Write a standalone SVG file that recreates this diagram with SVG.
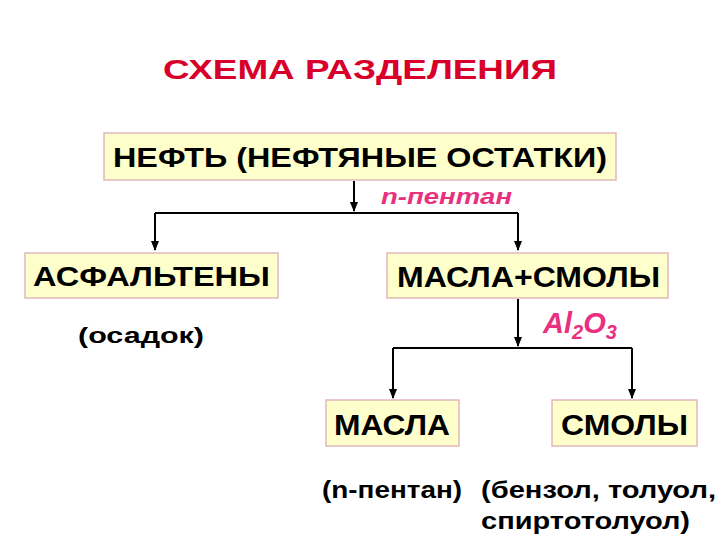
<svg xmlns="http://www.w3.org/2000/svg" width="720" height="540" viewBox="0 0 720 540">
<style>
.box{fill:#FFFFCC;stroke:#E2B8B8;stroke-width:1.5}
.t{font-family:"Liberation Sans",Arial,sans-serif;font-weight:bold;fill:#000}
.p{font-family:"Liberation Sans",Arial,sans-serif;font-weight:bold;font-style:italic;fill:#E8307F}
.c{stroke:#000;stroke-width:2;fill:none}
</style>
<defs><marker id="a" viewBox="0 0 10 10" refX="9" refY="5" markerWidth="5" markerHeight="5" orient="auto"><path d="M0,1 L10,5 L0,9 z" fill="#000"/></marker></defs>
<rect width="720" height="540" fill="#fff"/>
<text x="163" y="79" class="t" style="fill:#D8002A;font-size:28px" textLength="394" lengthAdjust="spacingAndGlyphs">СХЕМА  РАЗДЕЛЕНИЯ</text>
<g id="connectors">
<path class="c" d="M354,181 V211" marker-end="url(#a)"/>
<path class="c" d="M155,213 H518"/>
<path class="c" d="M155,213 V250" marker-end="url(#a)"/>
<path class="c" d="M518,213 V250" marker-end="url(#a)"/>
<path class="c" d="M518,299 V346" marker-end="url(#a)"/>
<path class="c" d="M393,348 H632"/>
<path class="c" d="M393,348 V398" marker-end="url(#a)"/>
<path class="c" d="M632,348 V398" marker-end="url(#a)"/>
</g>
<g id="n1"><rect class="box" x="104" y="133" width="512" height="47"/><text x="113" y="167" class="t" font-size="27" textLength="494" lengthAdjust="spacingAndGlyphs">НЕФТЬ (НЕФТЯНЫЕ ОСТАТКИ)</text></g>
<text x="381" y="204" class="p" font-size="22" textLength="131" lengthAdjust="spacingAndGlyphs">n-пентан</text>
<g id="n2"><rect class="box" x="25" y="253" width="253" height="45"/><text x="33" y="286" class="t" font-size="27" textLength="237" lengthAdjust="spacingAndGlyphs">АСФАЛЬТЕНЫ</text></g>
<text x="78" y="343" class="t" font-size="22" textLength="126" lengthAdjust="spacingAndGlyphs">(осадок)</text>
<g id="n3"><rect class="box" x="387" y="253" width="281" height="45"/><text x="397" y="287" class="t" font-size="29" textLength="263" lengthAdjust="spacingAndGlyphs">МАСЛА+СМОЛЫ</text></g>
<text x="543" y="333" class="p" font-size="29">Al<tspan font-size="20" dy="6">2</tspan><tspan dy="-6">O</tspan><tspan font-size="20" dy="6">3</tspan></text>
<g id="n4"><rect class="box" x="326" y="400" width="133" height="46"/><text x="334" y="435" class="t" font-size="29" textLength="116" lengthAdjust="spacingAndGlyphs">МАСЛА</text></g>
<g id="n5"><rect class="box" x="552" y="400" width="145" height="46"/><text x="561" y="435" class="t" font-size="29" textLength="127" lengthAdjust="spacingAndGlyphs">СМОЛЫ</text></g>
<text x="322" y="498" class="t" font-size="23" textLength="140" lengthAdjust="spacingAndGlyphs">(n-пентан)</text>
<text x="481" y="498" class="t" font-size="23" textLength="235" lengthAdjust="spacingAndGlyphs">(бензол, толуол,</text>
<text x="481" y="529" class="t" font-size="23" textLength="209" lengthAdjust="spacingAndGlyphs">спиртотолуол)</text>
</svg>
